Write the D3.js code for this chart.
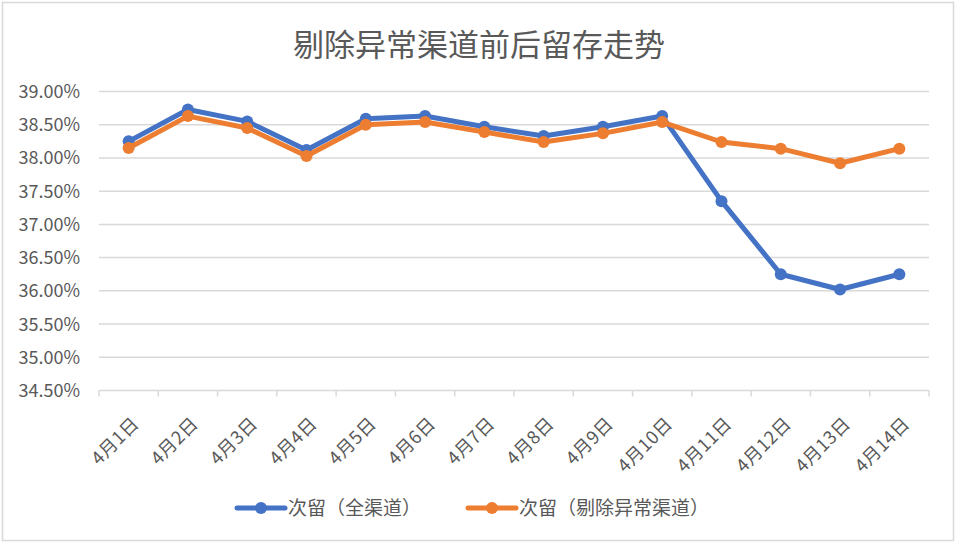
<!DOCTYPE html>
<html>
<head>
<meta charset="utf-8">
<script src="https://cdn.jsdelivr.net/npm/d3@7"></script>
<style>
  body { margin: 0; background: #fff; }
  text { font-family: "Noto Sans CJK SC", "Noto Sans", sans-serif; fill: #595959; }
</style>
</head>
<body>
<script>
// 数据
var days = ["4月1日","4月2日","4月3日","4月4日","4月5日","4月6日","4月7日","4月8日","4月9日","4月10日","4月11日","4月12日","4月13日","4月14日"];
var allChannels = [38.25,38.73,38.55,38.12,38.59,38.63,38.47,38.33,38.47,38.63,37.35,36.25,36.02,36.25];
var cleanChannels = [38.15,38.63,38.45,38.03,38.50,38.54,38.39,38.24,38.37,38.54,38.24,38.14,37.92,38.14];
var seriesNames = ["次留（全渠道）","次留（剔除异常渠道）"];
var yTicks = [34.5,35,35.5,36,36.5,37,37.5,38,38.5,39];

var width = 958, height = 544;
var colors = ["#4472C4", "#ED7D31"];

var svg = d3.select("body").append("svg")
  .attr("width", width)
  .attr("height", height);

// 外框
svg.append("rect")
  .attr("x", 2.5).attr("y", 2.5)
  .attr("width", 951).attr("height", 538)
  .attr("fill", "none")
  .attr("stroke", "#d9d9d9")
  .attr("stroke-width", 1.5);

// 标题
svg.append("text")
  .attr("x", 479)
  .attr("y", 56)
  .attr("text-anchor", "middle")
  .attr("font-size", 31)
  .text("剔除异常渠道前后留存走势");

var x = d3.scaleBand().domain(days).range([99, 929]);
var y = d3.scaleLinear().domain([34.5, 39]).range([390.5, 91.5]);

// 网格线
svg.append("g")
  .selectAll("line")
  .data(yTicks.filter(d => d > 34.5))
  .join("line")
    .attr("x1", 99).attr("x2", 929)
    .attr("y1", d => y(d)).attr("y2", d => y(d))
    .attr("stroke", "#d9d9d9")
    .attr("stroke-width", 1.5);

// y轴标签
svg.append("g")
  .selectAll("text")
  .data(yTicks)
  .join("text")
    .attr("x", 80)
    .attr("y", d => y(d))
    .attr("dy", "0.36em")
    .attr("text-anchor", "end")
    .attr("font-size", 18)
    .text(d => d3.format(".2f")(d) + "%");

// x轴
var xAxis = svg.append("g");
xAxis.append("line")
  .attr("x1", 99).attr("x2", 929)
  .attr("y1", y(34.5)).attr("y2", y(34.5))
  .attr("stroke", "#d9d9d9").attr("stroke-width", 1.5);
xAxis.selectAll("line.tick")
  .data(days.concat(["end"]))
  .join("line")
    .attr("class", "tick")
    .attr("x1", (d, i) => 99 + i * x.step())
    .attr("x2", (d, i) => 99 + i * x.step())
    .attr("y1", y(34.5)).attr("y2", y(34.5) + 6)
    .attr("stroke", "#d9d9d9").attr("stroke-width", 1.5);
xAxis.selectAll("text")
  .data(days)
  .join("text")
    .attr("transform", d => `translate(${x(d) + x.bandwidth() / 2 + 7},${y(34.5) + 30}) rotate(-45)`)
    .attr("text-anchor", "end")
    .attr("dy", "0.35em")
    .attr("font-size", 18)
    .attr("letter-spacing", 0.5)
    .text(d => d);

// 折线
var line = d3.line()
  .x((d, i) => x(days[i]) + x.bandwidth() / 2)
  .y(d => y(d));

[allChannels, cleanChannels].forEach(function(vals, k) {
  var g = svg.append("g");
  g.append("path")
    .datum(vals)
    .attr("fill", "none")
    .attr("stroke", colors[k])
    .attr("stroke-width", 5)
    .attr("stroke-linejoin", "round")
    .attr("d", line);
  g.selectAll("circle")
    .data(vals)
    .join("circle")
      .attr("cx", (d, i) => x(days[i]) + x.bandwidth() / 2)
      .attr("cy", d => y(d))
      .attr("r", 6)
      .attr("fill", colors[k]);
});

// 图例
var legendX = [237, 468];
var legend = svg.append("g")
  .selectAll("g")
  .data(seriesNames)
  .join("g")
    .attr("transform", (d, i) => `translate(${legendX[i]},508)`);
legend.append("line")
  .attr("x1", 0).attr("x2", 48)
  .attr("stroke", (d, i) => colors[i])
  .attr("stroke-width", 5)
  .attr("stroke-linecap", "round");
legend.append("circle")
  .attr("cx", 24).attr("r", 6)
  .attr("fill", (d, i) => colors[i]);
legend.append("text")
  .attr("x", 51)
  .attr("dy", "0.36em")
  .attr("font-size", 19)
  .text(d => d);
</script>
</body>
</html>
